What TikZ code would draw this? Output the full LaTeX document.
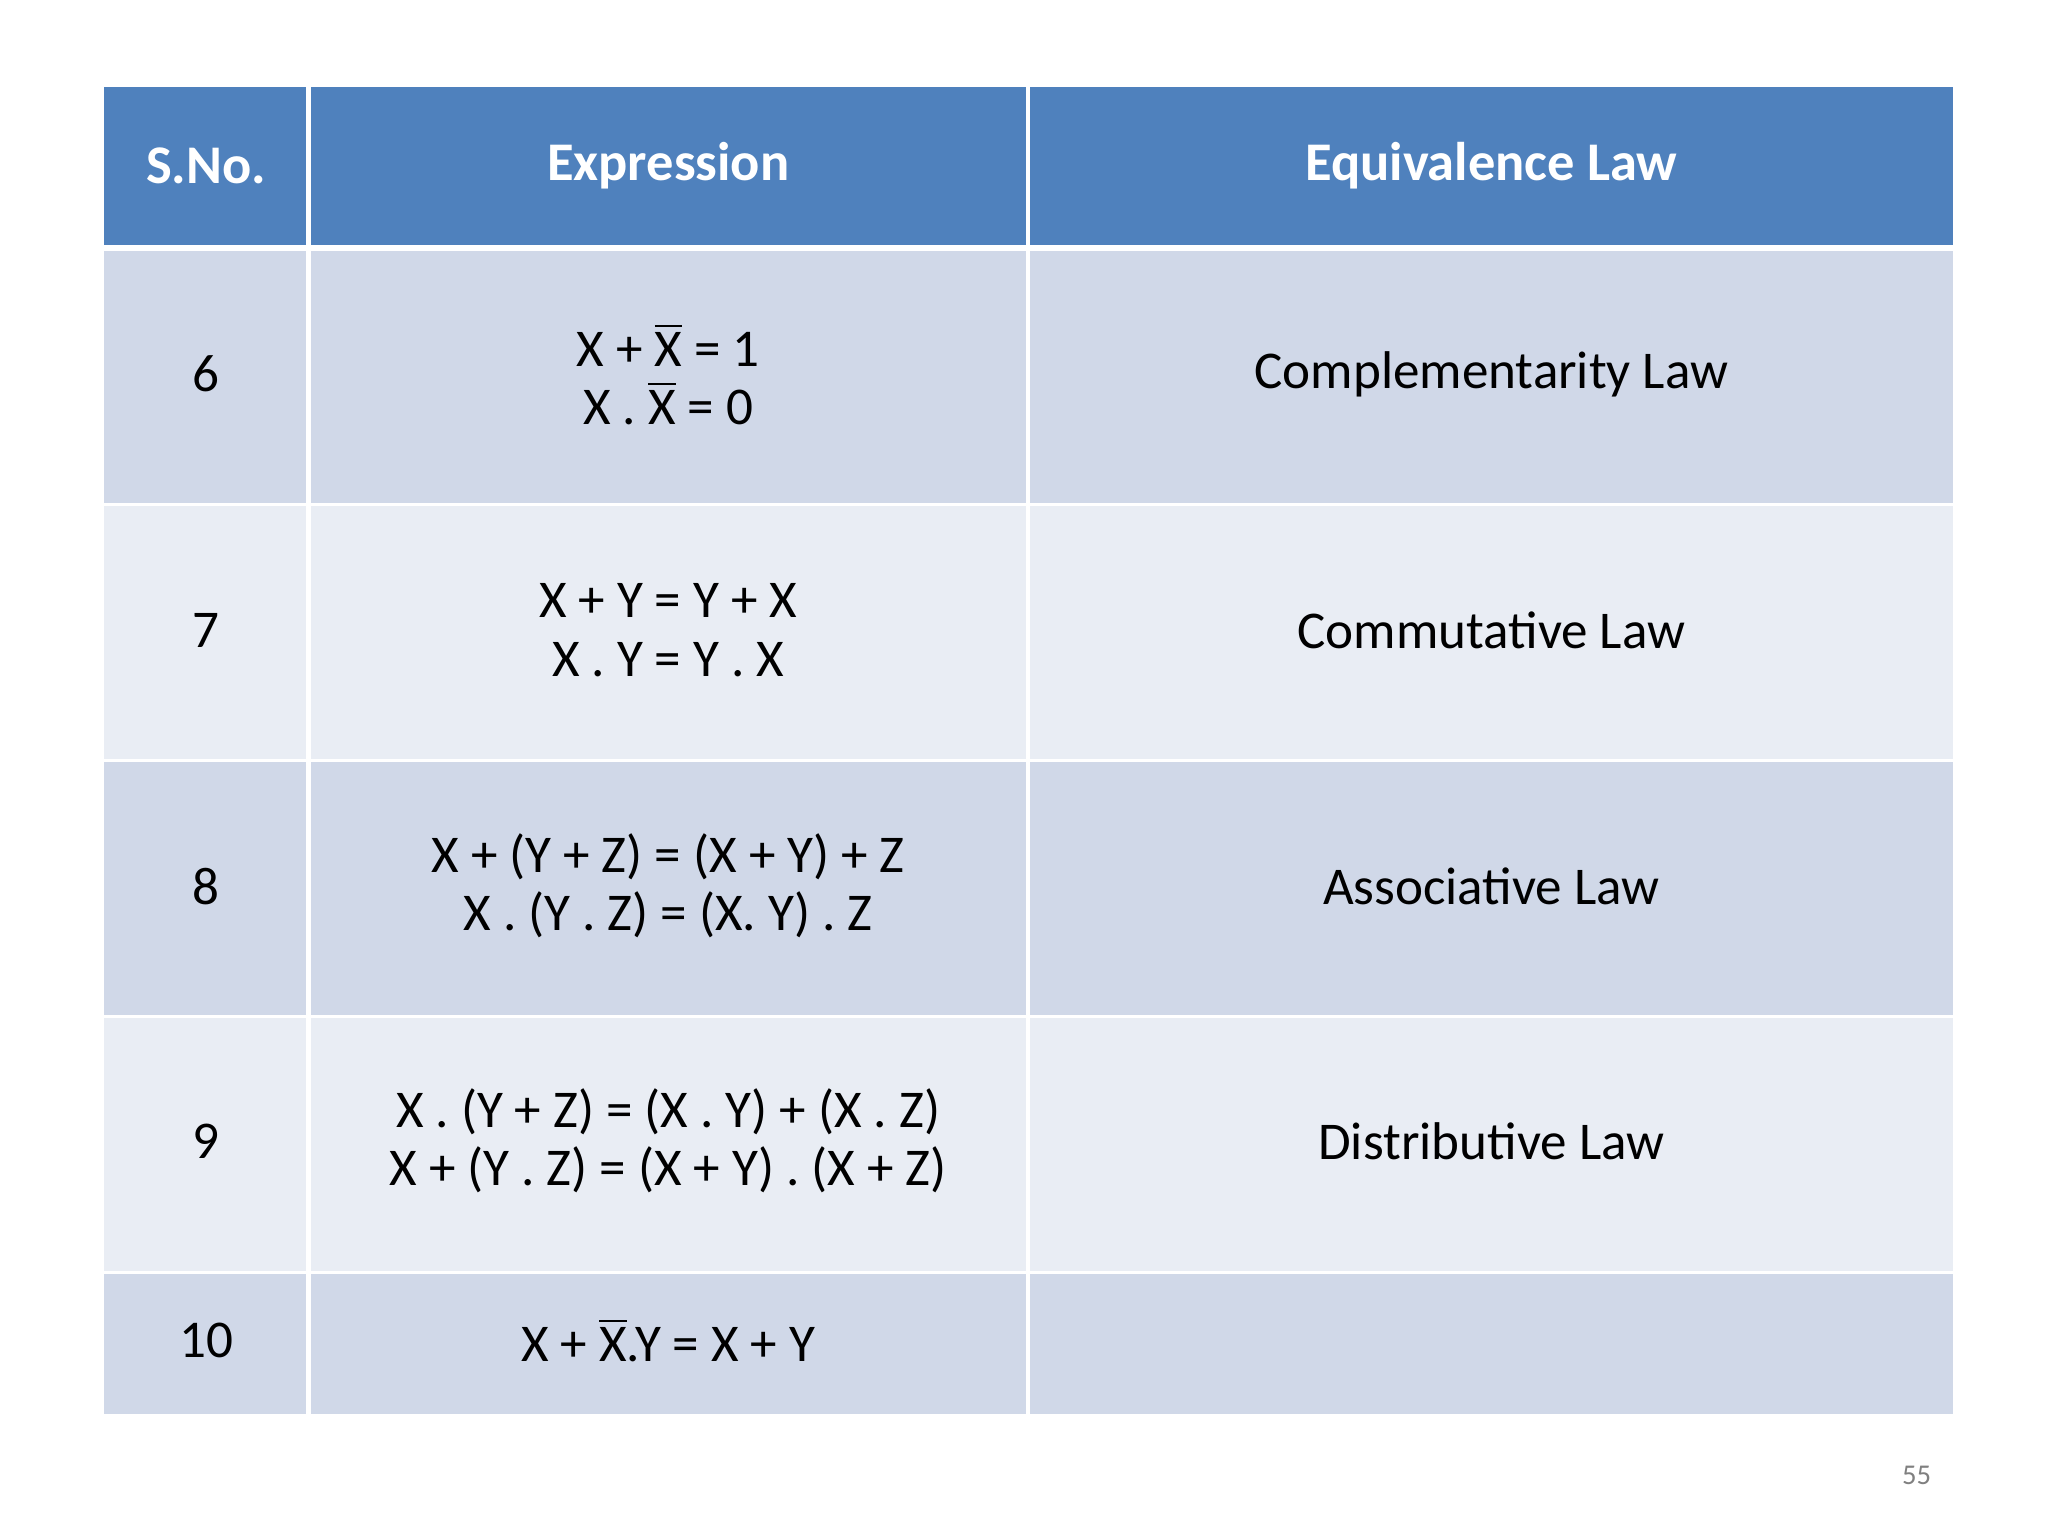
\documentclass[tikz,border=0pt]{standalone}
\usepackage{fontspec}
\setmainfont{Carlito}
\definecolor{hdr}{HTML}{4F81BD}
\definecolor{dk}{HTML}{D0D8E8}
\definecolor{lt}{HTML}{E9EDF4}
\newcommand{\ovl}[1]{$\overline{\mbox{#1}}$}
\begin{document}
\begin{tikzpicture}[x=0.01cm,y=-0.01cm,
  cell/.style={font=\fontsize{11.5}{12.6}\selectfont,align=center,text=black},
  head/.style={font=\fontsize{11.8}{13}\selectfont\bfseries,text=white}]
\useasboundingbox (0,0) rectangle (1560,1170);
\fill[white] (0,0) rectangle (1560,1170);
% header
\fill[hdr] (79,66) rectangle (1488,187);
\fill[dk] (79,191) rectangle (1488,383);
\fill[lt] (79,385) rectangle (1488,578);
\fill[dk] (79,580) rectangle (1488,773);
\fill[lt] (79,775) rectangle (1488,968);
\fill[dk] (79,970) rectangle (1488,1077);
\draw[white,line width=1.2pt] (79,189)--(1488,189);
\foreach \y in {384,579,774,969} \draw[white,line width=0.6pt] (79,\y)--(1488,\y);
\foreach \x in {235,783} \draw[white,line width=1pt] (\x,66)--(\x,1077);
\node[head] (h1) at (157,126) {S.No.};
\node[head] (h2) at (509,126) {Expression};
\node[head] (h3) at (1136,126) {Equivalence Law};
\node[cell] (n6) at (157,285) {6};
\node[cell] (e6) at (509,285) {X + \ovl{X} = 1\\X . \ovl{X} = 0};
\node[cell] (l6) at (1136,285) {Complementarity Law};
\node[cell] (n7) at (157,480) {7};
\node[cell] (e7) at (509,480) {X + Y = Y + X\\X . Y = Y . X};
\node[cell] (l7) at (1136,480) {Commutative Law};
\node[cell] (n8) at (157,675) {8};
\node[cell] (e8) at (509,675) {X + (Y + Z) = (X + Y) + Z\\X . (Y . Z) = (X. Y) . Z};
\node[cell] (l8) at (1136,675) {Associative Law};
\node[cell] (n9) at (157,869) {9};
\node[cell] (e9) at (509,869) {X . (Y + Z) = (X . Y) + (X . Z)\\X + (Y . Z) = (X + Y) . (X + Z)};
\node[cell] (l9) at (1136,869) {Distributive Law};
\node[cell] (n10) at (157,1021) {10};
\node[cell] (e10) at (509,1021) {X + \ovl{X}.Y = X + Y};
\node[font=\fontsize{6.2}{7}\selectfont,text=gray] (pg) at (1460,1124) {55};
\end{tikzpicture}
\end{document}
